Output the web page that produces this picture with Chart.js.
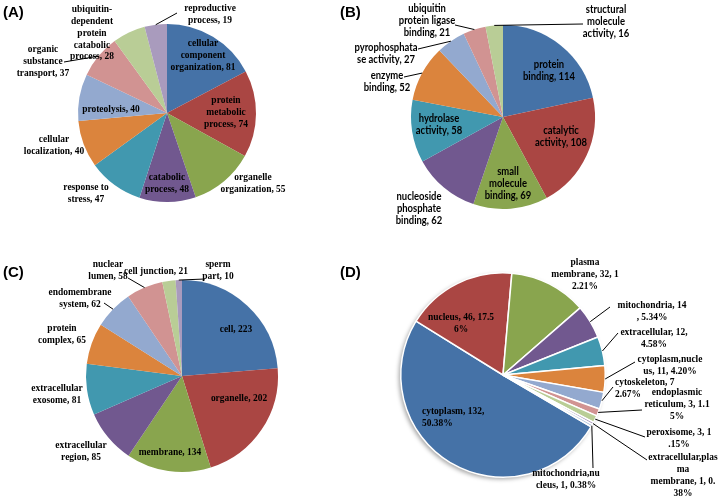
<!DOCTYPE html>
<html><head><meta charset="utf-8">
<script src="https://cdn.jsdelivr.net/npm/chart.js@4"></script>
<style>
html,body{margin:0;padding:0;background:#fff;}
#wrap{position:relative;width:720px;height:503px;overflow:hidden;background:#fff;}
.panel{position:absolute;}
.panel canvas{position:absolute;left:0;top:0;}
.tag{position:absolute;font:bold 15px "Liberation Sans",Arial,sans-serif;color:#000;line-height:15px;}
</style></head><body>
<div id="wrap">
  <div class="panel" style="left:0;top:0;width:360px;height:251px"><canvas id="cA" width="360" height="251"></canvas></div>
  <div class="panel" style="left:330px;top:0;width:390px;height:251px"><canvas id="cB" width="390" height="251"></canvas></div>
  <div class="panel" style="left:0;top:251px;width:360px;height:252px"><canvas id="cC" width="360" height="252"></canvas></div>
  <div class="panel" style="left:360px;top:251px;width:360px;height:252px"><canvas id="cD" width="360" height="252"></canvas></div>
  <div class="tag" style="left:3px;top:4px">(A)</div>
  <div class="tag" style="left:340px;top:4px">(B)</div>
  <div class="tag" style="left:3px;top:264px">(C)</div>
  <div class="tag" style="left:340px;top:264px">(D)</div>
</div>
<script>
// ---------------- DATA ----------------
const categoriesA = ['cellular component organization','protein metabolic process','organelle organization','catabolic process','response to stress','cellular localization','proteolysis','organic substance transport','ubiquitin-dependent protein catabolic process','reproductive process'];
const valuesA = [81,74,55,48,47,40,40,37,28,19];
const labelsA = [
  ['cellular','component','organization, 81'],
  ['protein','metabolic','process, 74'],
  ['organelle','organization, 55'],
  ['catabolic','process, 48'],
  ['response to','stress, 47'],
  ['cellular','localization, 40'],
  ['proteolysis, 40'],
  ['organic','substance','transport, 37'],
  ['ubiquitin-','dependent','protein','catabolic','process, 28'],
  ['reproductive','process, 19']
];

const categoriesB = ['protein binding','catalytic activity','small molecule binding','nucleoside phosphate binding','hydrolase activity','enzyme binding','pyrophosphatase activity','ubiquitin protein ligase binding','structural molecule activity'];
const valuesB = [114,108,69,62,58,52,27,21,16];
const labelsB = [
  ['protein','binding, 114'],
  ['catalytic','activity, 108'],
  ['small','molecule','binding, 69'],
  ['nucleoside','phosphate','binding, 62'],
  ['hydrolase','activity, 58'],
  ['enzyme','binding, 52'],
  ['pyrophosphata','se activity, 27'],
  ['ubiquitin','protein ligase','binding, 21'],
  ['structural','molecule','activity, 16']
];

const categoriesC = ['cell','organelle','membrane','extracellular region','extracellular exosome','protein complex','endomembrane system','nuclear lumen','cell junction','sperm part'];
const valuesC = [223,202,134,85,81,65,62,58,21,10];
const labelsC = [
  ['cell, 223'],
  ['organelle, 202'],
  ['membrane, 134'],
  ['extracellular','region, 85'],
  ['extracellular','exosome, 81'],
  ['protein','complex, 65'],
  ['endomembrane','system, 62'],
  ['nuclear','lumen, 58'],
  ['cell junction, 21'],
  ['sperm','part, 10']
];

const categoriesD = ['cytoplasm','nucleus','plasma membrane','mitochondria','extracellular','cytoplasm,nucleus','cytoskeleton','endoplasmic reticulum','peroxisome','extracellular,plasma membrane','mitochondria,nucleus'];
const valuesD = [132,46,32,14,12,11,7,3,3,1,1];
const labelsD = [
  ['cytoplasm, 132,','50.38%'],
  ['nucleus, 46, 17.5','6%'],
  ['plasma','membrane, 32, 1','2.21%'],
  ['mitochondria, 14',', 5.34%'],
  ['extracellular, 12,','4.58%'],
  ['cytoplasm,nucle','us, 11, 4.20%'],
  ['cytoskeleton, 7','2.67%'],
  ['endoplasmic','reticulum, 3, 1.1','5%'],
  ['peroxisome, 3, 1','.15%'],
  ['extracellular,plas','ma','membrane, 1, 0.','38%'],
  ['mitochondria,nu','cleus, 1, 0.38%']
];

// ---------------- STYLE / LAYOUT ----------------
const palette = ['#4572A7','#AA4643','#89A54E','#71588F','#4198AF','#DB843D','#93A9CF','#D19392','#B9CD96','#A99BBD','#A8BCD8'];

// label placement: offset of text-block centre from pie centre (px), optional leader end point
const placeA = [
  {dx:36,dy:-58},{dx:59,dy:-1},{dx:86,dy:70},{dx:0,dy:70},{dx:-81,dy:80},
  {dx:-113,dy:32},{dx:-56,dy:-4},{dx:-124,dy:-52,lead:[-103,-51]},{dx:-75,dy:-80},
  {dx:43,dy:-99,lead:[10,-100]}
];
const placeB = [
  {dx:46,dy:-46},{dx:58,dy:20},{dx:5,dy:67},{dx:-84,dy:92},{dx:-64,dy:8},
  {dx:-116,dy:-35,lead:[-99,-40]},{dx:-117,dy:-63,lead:[-85,-68]},
  {dx:-76,dy:-96,lead:[-48,-92]},{dx:103,dy:-95,lead:[80,-93]}
];
const placeC = [
  {dx:54,dy:-47},{dx:57,dy:22},{dx:-12,dy:76},{dx:-101,dy:75},{dx:-125,dy:18},
  {dx:-120,dy:-42},{dx:-102,dy:-78,lead:[-78,-73]},{dx:-74,dy:-106,lead:[-54,-98]},
  {dx:-26,dy:-105},{dx:36,dy:-106,lead:[23,-97]}
];
const placeD = [
  {dx:-81,dy:42,align:'left'},{dx:-42,dy:-52},{dx:82,dy:-101},
  {dx:149,dy:-64,lead:[107,-68]},{dx:151,dy:-37,lead:[115,-42]},
  {dx:167,dy:-10,lead:[132,-13]},{dx:112,dy:13,align:'left',lead:[110,12]},
  {dx:174,dy:29,lead:[139,35]},{dx:176,dy:63,lead:[142,62]},
  {dx:180,dy:100,lead:[144,85]},{dx:63,dy:104,lead:[90,93]}
];

const serif = {font:'bold 11px "Liberation Serif", "Times New Roman", serif', sx:0.86, lh:11.8};
const sans  = {font:'bold 10.5px Lato, "Open Sans", sans-serif', sx:0.9, lh:12};

const labelPlugin = {
  id: 'sliceLabels',
  beforeDatasetsDraw(chart, args, opts) {
    if (!opts.shadow) return;
    const arc = chart.getDatasetMeta(0).data[0];
    const {x, y, outerRadius} = arc.getProps(['x','y','outerRadius'], true);
    const ctx = chart.ctx;
    ctx.save();
    ctx.shadowColor = 'rgba(0,0,0,0.35)';
    ctx.shadowBlur = 4;
    ctx.shadowOffsetX = -2;
    ctx.shadowOffsetY = 2;
    ctx.fillStyle = '#ffffff';
    ctx.beginPath();
    ctx.arc(x, y, outerRadius, 0, Math.PI*2);
    ctx.fill();
    ctx.restore();
  },
  afterDatasetsDraw(chart, args, opts) {
    const ctx = chart.ctx;
    const meta = chart.getDatasetMeta(0);
    const st = opts.style;
    meta.data.forEach((arc, i) => {
      const P = opts.place[i], lines = opts.lines[i];
      if (!P || !lines) return;
      const {x, y, outerRadius, startAngle, endAngle} = arc.getProps(['x','y','outerRadius','startAngle','endAngle'], true);
      const mid = (startAngle + endAngle) / 2;
      ctx.save();
      if (P.lead) {
        ctx.strokeStyle = '#000';
        ctx.lineWidth = 1;
        ctx.beginPath();
        ctx.moveTo(x + Math.cos(mid)*outerRadius, y + Math.sin(mid)*outerRadius);
        ctx.lineTo(x + P.lead[0], y + P.lead[1]);
        ctx.stroke();
      }
      ctx.font = st.font;
      ctx.fillStyle = '#000';
      ctx.textBaseline = 'middle';
      ctx.textAlign = P.align || 'center';
      const n = lines.length;
      lines.forEach((t, k) => {
        ctx.save();
        ctx.translate(x + P.dx, y + P.dy + (k - (n-1)/2) * st.lh);
        ctx.scale(st.sx, 1);
        ctx.fillText(t, 0, 0);
        ctx.restore();
      });
      ctx.restore();
    });
  }
};

function makePie(id, cats, vals, lines, place, style, geo, extra) {
  const canvas = document.getElementById(id);
  const W = canvas.width, H = canvas.height;
  new Chart(canvas, {
    type: 'pie',
    data: {
      labels: cats,
      datasets: [{
        data: vals,
        backgroundColor: palette.slice(0, vals.length),
        borderColor: '#ffffff',
        borderWidth: extra.border || 0
      }]
    },
    options: {
      responsive: false,
      devicePixelRatio: 1,
      animation: false,
      rotation: extra.rotation || 0,
      layout: { padding: { left: geo.cx - geo.r, top: geo.cy - geo.r, right: W - geo.cx - geo.r, bottom: H - geo.cy - geo.r } },
      plugins: {
        legend: { display: false },
        tooltip: { enabled: false },
        sliceLabels: { lines, place, style, shadow: !!extra.shadow }
      }
    },
    plugins: [labelPlugin]
  });
}

makePie('cA', categoriesA, valuesA, labelsA, placeA, serif, {cx:167, cy:113, r:89}, {});
makePie('cB', categoriesB, valuesB, labelsB, placeB, sans,  {cx:173, cy:117, r:92}, {});
makePie('cC', categoriesC, valuesC, labelsC, placeC, serif, {cx:182, cy:125, r:96}, {});
makePie('cD', categoriesD, valuesD, labelsD, placeD, serif, {cx:143, cy:124, r:103}, {rotation:120.4, border:1.5, shadow:true});
</script>
</body></html>
